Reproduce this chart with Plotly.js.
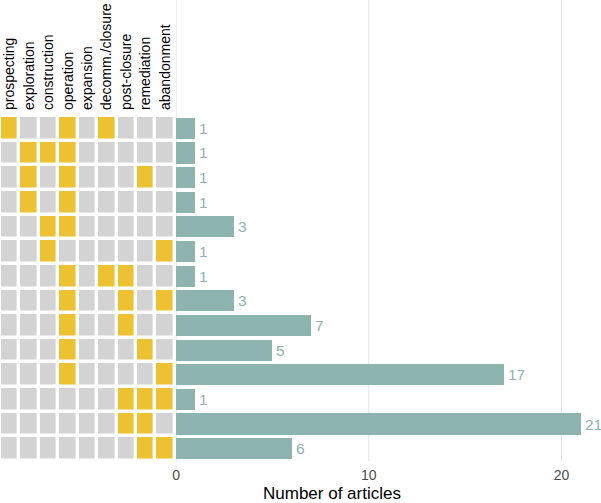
<!DOCTYPE html>
<html><head><meta charset="utf-8">
<script src="https://cdn.plot.ly/plotly-3.0.1.min.js"></script>
<style>html,body{margin:0;padding:0;background:#fff}</style>
</head><body><div id="chart" style="width:601px;height:503px"></div>
<script>
const stages = ["prospecting","exploration","construction","operation","expansion","decomm./closure","post-closure","remediation","abandonment"];
const combos = [
  [1,0,0,1,0,1,0,0,0],
  [0,1,1,1,0,0,0,0,0],
  [0,1,0,1,0,0,0,1,0],
  [0,1,0,1,0,0,0,0,0],
  [0,0,1,1,0,0,0,0,0],
  [0,0,1,0,0,0,0,0,1],
  [0,0,0,1,0,1,1,0,0],
  [0,0,0,1,0,0,1,0,1],
  [0,0,0,1,0,0,1,0,0],
  [0,0,0,1,0,0,0,1,0],
  [0,0,0,1,0,0,0,0,1],
  [0,0,0,0,0,0,1,1,1],
  [0,0,0,0,0,0,1,1,0],
  [0,0,0,0,0,0,0,1,1]
];
const counts = [1,1,1,1,3,1,1,3,7,5,17,1,21,6];
const xTicks = [0,10,20];

const rows = counts.map((_, i) => i);
const teal = '#8db4af';
const font = 'Liberation Sans, Arial, sans-serif';

const traces = [
  {type:'heatmap', z: combos, x: stages.map((_, i) => i), y: rows,
   colorscale:[[0,'#d3d3d3'],[1,'#ecc232']], zmin:0, zmax:1, showscale:false,
   xgap:3.4, ygap:3.5, xaxis:'x', yaxis:'y', hoverinfo:'skip'},
  {type:'bar', orientation:'h', x: counts, y: rows, width:0.86,
   marker:{color:teal}, xaxis:'x2', yaxis:'y2', hoverinfo:'skip'}
];

const mt = 116, mb = 42, H = 503;
const ph = H - mt - mb;
const topPaper = 1 + mt / ph;

const shapes = xTicks.map(v => ({type:'line', xref:'x2', yref:'paper', x0:v, x1:v, y0:0, y1:topPaper,
  line:{color:'#e3e3e3', width:1}, layer:'below'}));

const labelAnns = counts.map((c, i) => ({text:String(c), xref:'x2', yref:'y2', x:c, y:i, xanchor:'left', yanchor:'middle',
  xshift:2, showarrow:false, font:{size:15.5, color:teal, family:font}}));

const layout = {
  width:601, height:503,
  margin:{l:0, r:0, t:mt, b:mb},
  paper_bgcolor:'#fff', plot_bgcolor:'rgba(0,0,0,0)',
  font:{family:font, color:'#000'},
  showlegend:false,
  bargap:0,
  xaxis:{domain:[0,0.291], range:[-0.5,8.5], side:'top', tickvals: stages.map((_, i) => i), ticktext: stages,
    tickangle:-90, tickfont:{size:14, color:'#000', family:font}, ticklabelstandoff:5,
    showgrid:false, zeroline:false, showline:false, ticks:'', fixedrange:true},
  yaxis:{domain:[0,1], range:[13.5,-0.5], showticklabels:false, showgrid:false, zeroline:false, ticks:''},
  xaxis2:{domain:[0.293,1], range:[0,22.05], tickvals:xTicks, ticktext:xTicks.map(String), showgrid:false, zeroline:false,
    tickfont:{size:14, color:'#4d4d4d', family:font}, ticklabelstandoff:4, ticks:'', anchor:'y2'},
  yaxis2:{domain:[0,1], range:[13.5,-0.5], showticklabels:false, showgrid:false, zeroline:false, ticks:'', anchor:'x2', overlaying:'y'},
  shapes: shapes,
  annotations: labelAnns.concat([{text:'Number of articles', xref:'paper', yref:'paper', x:0.553, y:-(493-(H-mb))/ph, xanchor:'center', yanchor:'middle',
    showarrow:false, font:{size:17, color:'#000', family:font}}])
};
Plotly.newPlot('chart', traces, layout, {displayModeBar:false, staticPlot:true});
</script></body></html>
